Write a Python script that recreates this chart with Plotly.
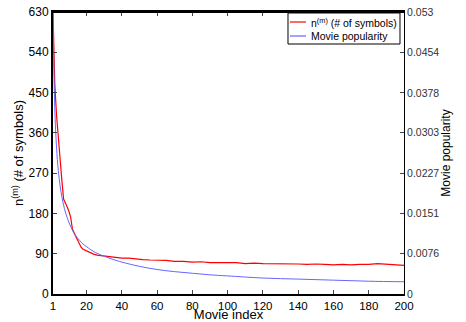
import plotly.graph_objects as go

# Movie index values and series
red_idx = [1, 2, 3, 4, 5, 6, 7, 8, 9, 10, 11, 12, 13, 14, 15, 16, 17, 18, 19, 20,
           22, 24, 26, 28, 30, 33, 36, 40, 44, 48, 52, 56, 60, 65, 70, 75, 80, 85,
           90, 95, 100, 105, 110, 115, 120, 125, 130, 135, 140, 145, 150, 155, 160,
           165, 170, 175, 180, 185, 190, 195, 200]
n_symbols = [630, 470, 400, 345, 300, 255, 212, 205, 195, 185, 172, 145, 135, 128, 120,
             112, 104, 100, 98, 96, 92, 89, 87, 86, 85, 84, 82, 80, 80, 78, 77, 76, 76,
             75, 73, 73, 71, 72, 70, 70, 69, 70, 68, 69, 68, 68, 67, 68, 67, 66, 67, 66,
             65, 66, 65, 66, 66, 68, 67, 66, 64]

blue_idx = [1, 2, 3, 4, 5, 6, 7, 8, 9, 10, 12, 14, 16, 18, 20, 25, 30, 35, 40, 50,
            60, 70, 80, 90, 100, 120, 140, 160, 180, 200]
popularity = [0.0530, 0.0350, 0.0276, 0.0232, 0.0204, 0.0183, 0.0167, 0.0154, 0.0144,
              0.0135, 0.0120, 0.0109, 0.0101, 0.0094, 0.0089, 0.0078, 0.0071, 0.0065,
              0.0060, 0.0052, 0.0046, 0.0042, 0.0039, 0.0036, 0.0034, 0.0030, 0.0028,
              0.0026, 0.0024, 0.0023]

x_ticks = [1, 20, 40, 60, 80, 100, 120, 140, 160, 180, 200]
y_ticks = [0, 90, 180, 270, 360, 450, 540, 630]
y2_ticks = [0, 0.0076, 0.0151, 0.0227, 0.0303, 0.0378, 0.0454, 0.053]
y2_labels = ["0", "0.0076", "0.0151", "0.0227", "0.0303", "0.0378", "0.0454", "0.053"]

red_name = "n<sup>(m)</sup> (# of symbols)"
blue_name = "Movie popularity"
red_color = "#ff0000"
blue_color = "#6666ff"

fig = go.Figure()
fig.add_trace(go.Scatter(x=red_idx, y=n_symbols, mode="lines", name=red_name,
                         showlegend=False,
                         line=dict(color=red_color, width=1.2)))
fig.add_trace(go.Scatter(x=blue_idx, y=popularity, mode="lines", xaxis="x2", yaxis="y2",
                         name=blue_name, line_shape="spline", showlegend=False,
                         line=dict(color=blue_color, width=1)))

# Top frame line of the axes box
fig.add_shape(type="line", xref="paper", yref="paper", x0=0, x1=1, y0=1, y1=1,
              line=dict(color="black", width=2), layer="above")

# Compact MATLAB-style legend box drawn in paper coordinates
lx0, lx1, ly0, ly1 = 0.6695, 0.9886, 0.8865, 0.9965
seg_x0, seg_x1, txt_x = 0.6752, 0.7208, 0.729
rows = [(0.9645, red_color, red_name), (0.9149, blue_color, blue_name)]
fig.add_shape(type="rect", xref="paper", yref="paper", x0=lx0, x1=lx1, y0=ly0, y1=ly1,
              line=dict(color="black", width=1), fillcolor="white", layer="above")
for ry, col, name in rows:
    fig.add_shape(type="line", xref="paper", yref="paper", x0=seg_x0, x1=seg_x1,
                  y0=ry, y1=ry, line=dict(color=col, width=1.2), layer="above")
    fig.add_annotation(xref="paper", yref="paper", x=txt_x, y=ry, text=name,
                       showarrow=False, xanchor="left", yanchor="middle",
                       font=dict(size=10.5, color="black"))

font = dict(family="Liberation Sans, Arial, sans-serif", size=12, color="black")
fig.update_layout(
    width=466, height=322,
    margin=dict(l=53, r=62, t=12, b=28),
    paper_bgcolor="white", plot_bgcolor="white",
    font=font,
    showlegend=False,
    xaxis=dict(range=[1, 200], tickvals=x_ticks, ticks="inside", ticklen=4,
               showline=True, linecolor="black", linewidth=2,
               showgrid=False, zeroline=False, automargin=False,
               title=dict(text="Movie index", standoff=4, font=dict(size=13)),
               tickfont=dict(size=11.5)),
    xaxis2=dict(range=[1, 200], tickvals=x_ticks, ticks="inside", ticklen=4,
                overlaying="x", side="top", showticklabels=False,
                showline=True, linecolor="black", linewidth=2,
                showgrid=False, zeroline=False, automargin=False),
    yaxis=dict(range=[0, 630], tickvals=y_ticks, ticks="inside", ticklen=4,
               showline=True, linecolor="black", linewidth=2,
               showgrid=False, zeroline=False, automargin=False,
               title=dict(text="n<sup>(m)</sup> (# of symbols)", standoff=2,
                          font=dict(size=13)),
               tickfont=dict(size=12)),
    yaxis2=dict(range=[0, 0.053], tickvals=y2_ticks, ticktext=y2_labels,
                overlaying="y", side="right", ticks="inside", ticklen=4,
                showline=True, linecolor="black", linewidth=1,
                showgrid=False, zeroline=False, automargin=False,
                title=dict(text="Movie popularity", standoff=2, font=dict(size=12)),
                tickfont=dict(size=10.5, color="#333333")),
)

fig.write_html("out.html", config={"displayModeBar": False},
               post_script="document.body.style.margin='0';document.body.style.overflow='hidden';")
